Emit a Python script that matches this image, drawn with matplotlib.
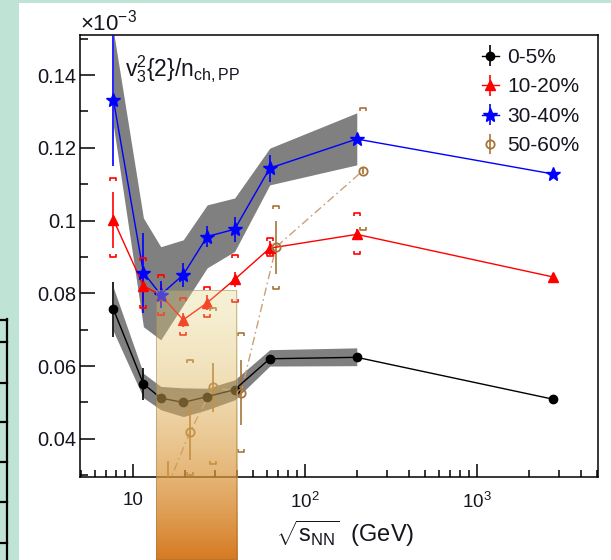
"""
v3^2{2}/n_ch,PP versus collision energy for four centrality classes,
with systematic bands / brackets and a highlighted energy window.
"""

import matplotlib
matplotlib.use("Agg")

import matplotlib.pyplot as plt
import numpy as np
from matplotlib.lines import Line2D
from matplotlib.patches import Rectangle
from matplotlib.path import Path
from matplotlib.ticker import FuncFormatter, LogLocator, NullFormatter


plt.rcParams["font.family"] = ["Liberation Sans", "DejaVu Sans"]
plt.rcParams["mathtext.fontset"] = "custom"
plt.rcParams["mathtext.rm"] = "Liberation Sans"
plt.rcParams["mathtext.it"] = "Liberation Sans:italic"
plt.rcParams["mathtext.bf"] = "Liberation Sans:bold"


# ---- data (values in units of 1e-3) ----
energy = [7.7, 11.5, 14.5, 19.6, 27, 39, 62.4, 200, 2760]
band_energy = [7.7, 11.5, 14.5, 19.6, 27, 39, 62.4, 200]

c0_5 = [0.0756, 0.0551, 0.0512, 0.0500, 0.0516, 0.0535, 0.0620, 0.0624, 0.0509]
c0_5_stat = [0.0075, 0.0045, 0.0012, 0.0010, 0.0010, 0.0010, 0.0008, 0.0008, 0.0006]
c0_5_band_lo = [0.0695, 0.0513, 0.0480, 0.0461, 0.0480, 0.0507, 0.0600, 0.0601]
c0_5_band_hi = [0.0815, 0.0580, 0.0544, 0.0540, 0.0539, 0.0562, 0.0645, 0.0650]

c10_20 = [0.1002, 0.0820, 0.0795, 0.0727, 0.0774, 0.0838, 0.0924, 0.0962, 0.0845]
c10_20_stat = [0.0077, 0.0040, 0.0030, 0.0020, 0.0020, 0.0020, 0.0020, 0.0015, 0.0010]
c10_20_sys_energy = [7.7, 11.5, 14.5, 19.6, 27, 39, 62.4, 200]
c10_20_sys_lo = [0.0900, 0.0760, 0.0740, 0.0686, 0.0735, 0.0777, 0.0903, 0.0908]
c10_20_sys_hi = [0.1117, 0.0897, 0.0850, 0.0787, 0.0818, 0.0905, 0.0952, 0.1021]

c30_40 = [0.1331, 0.0857, 0.0796, 0.0851, 0.0956, 0.0976, 0.1144, 0.1224, 0.1128]
c30_40_stat = [0.0180, 0.0110, 0.0037, 0.0033, 0.0030, 0.0034, 0.0037, 0.0010, 0.0008]
c30_40_band_lo = [0.1260, 0.0708, 0.0672, 0.0768, 0.0870, 0.0915, 0.1098, 0.1153]
c30_40_band_hi = [0.1520, 0.1007, 0.0928, 0.0947, 0.1043, 0.1062, 0.1199, 0.1296]

# 50-60% points are drawn slightly shifted in energy
c50_60_energy = [15.9, 21.4, 29.2, 42.5, 67.8, 217]
c50_60 = [0.0270, 0.0418, 0.0542, 0.0527, 0.0927, 0.1137]
c50_60_stat = [0.0070, 0.0075, 0.0067, 0.0090, 0.0073, 0.0010]
c50_60_sys_energy = [21.4, 29.2, 42.5, 67.8, 217]
c50_60_sys_lo = [0.0300, 0.0331, 0.0365, 0.0811, 0.0974]
c50_60_sys_hi = [0.0617, 0.0759, 0.0691, 0.1040, 0.1310]

labels = ["0-5%", "10-20%", "30-40%", "50-60%"]

highlight_range = (13.6, 40.3)

BROWN = "#a8743a"
BROWN_LINE = "#c9a07c"
GREEN_BG = "#bfe3d4"
TEXT = "#15151f"

W, H = 611, 560

# bracket markers for systematic errors
TOP_BRACKET = Path([(-1, -0.8), (-1, 0), (1, 0), (1, -0.8)],
                   [Path.MOVETO, Path.LINETO, Path.LINETO, Path.LINETO])
BOTTOM_BRACKET = Path([(-1, 0.8), (-1, 0), (1, 0), (1, 0.8)],
                      [Path.MOVETO, Path.LINETO, Path.LINETO, Path.LINETO])


def fx(px):
    return px / W


def fy(py):
    return 1 - py / H


def draw_brackets(ax, x, lo, hi, color):
    for path, vals in ((TOP_BRACKET, hi), (BOTTOM_BRACKET, lo)):
        ax.plot(x, vals, linestyle="none", marker=path, markersize=4.6,
                markerfacecolor="none", markeredgecolor=color,
                markeredgewidth=1.2, zorder=4)


def main():

    fig = plt.figure(figsize=(W / 100, H / 100), dpi=100)
    fig.patch.set_facecolor("white")

    # screenshot surroundings
    fig.patches.append(Rectangle((0, 0), fx(19), 1, transform=fig.transFigure,
                                 facecolor=GREEN_BG, edgecolor="none", zorder=0))
    fig.patches.append(Rectangle((0, fy(2.5)), 1, 2.5 / H, transform=fig.transFigure,
                                 facecolor=GREEN_BG, edgecolor="none", zorder=0))
    for yy in [320, 342, 383, 422, 462, 502, 543]:
        fig.add_artist(Line2D([0, fx(6.5)], [fy(yy), fy(yy)], color="black",
                              linewidth=1.6, transform=fig.transFigure))
    fig.add_artist(Line2D([fx(6.5), fx(6.5)], [fy(319), 0], color="black",
                          linewidth=1.6, transform=fig.transFigure))

    ax = fig.add_axes([fx(80), fy(477), fx(598) - fx(80), fy(35) - fy(477)])
    ax.set_xscale("log")
    ax.set_xlim(4.92, 5050)
    ax.set_ylim(0.0295, 0.151)

    # systematic bands
    ax.fill_between(band_energy, c0_5_band_lo, c0_5_band_hi,
                    color="#808080", linewidth=0, zorder=1)
    ax.fill_between(band_energy, c30_40_band_lo, c30_40_band_hi,
                    color="#808080", linewidth=0, zorder=1)

    ax.plot(c50_60_energy, c50_60, color=BROWN_LINE, linewidth=1.0,
            linestyle=(0, (6, 2.5, 1.2, 2.5)), zorder=2)

    draw_brackets(ax, c10_20_sys_energy, c10_20_sys_lo, c10_20_sys_hi, "red")
    draw_brackets(ax, c50_60_sys_energy, c50_60_sys_lo, c50_60_sys_hi, BROWN)

    h0 = ax.errorbar(energy, c0_5, yerr=c0_5_stat, fmt="-o", color="black",
                     markersize=6, linewidth=1.0, elinewidth=1.2, capsize=0, zorder=3)
    h1 = ax.errorbar(energy, c10_20, yerr=c10_20_stat, fmt="-^", color="red",
                     markersize=7, linewidth=1.0, elinewidth=1.2, capsize=0, zorder=3)
    h2 = ax.errorbar(energy, c30_40, yerr=c30_40_stat, fmt="-*", color="blue",
                     markersize=10, linewidth=1.0, elinewidth=1.2, capsize=0, zorder=3)
    h3 = ax.errorbar(c50_60_energy, c50_60, yerr=c50_60_stat, fmt="o", color=BROWN,
                     markerfacecolor="none", markeredgewidth=1.3, markersize=6,
                     elinewidth=1.2, capsize=0, zorder=3)

    # axes styling
    for spine in ax.spines.values():
        spine.set_linewidth(1.1)
    ax.set_xticks([10, 100, 1000], labels=["10", r"$10^{2}$", r"$10^{3}$"])
    ax.xaxis.set_minor_locator(LogLocator(base=10, subs=np.arange(2, 10)))
    ax.xaxis.set_minor_formatter(NullFormatter())
    ax.set_yticks([0.04, 0.06, 0.08, 0.10, 0.12, 0.14])
    ax.set_yticks(np.arange(0.03, 0.151, 0.01), minor=True)
    ax.yaxis.set_major_formatter(FuncFormatter(lambda v, _: f"{v:g}"))

    ax.tick_params(which="both", direction="in", top=False, right=False,
                   width=1.1, colors="black", labelcolor=TEXT)
    ax.tick_params(axis="y", which="major", length=10.5, pad=2.5, labelsize=14.5)
    ax.tick_params(axis="y", which="minor", length=5.5)
    ax.tick_params(axis="x", which="major", length=9.5, pad=11, labelsize=13.5)
    ax.tick_params(axis="x", which="minor", length=5)

    ax.set_xlabel(r"$\sqrt{\mathrm{s}_{\mathrm{NN}}}$  (GeV)", fontsize=17, color=TEXT)
    ax.xaxis.set_label_coords(0.512, -0.093)

    ax.text(0.0, 1.0, r"$\times$10$^{-3}$", transform=ax.transAxes,
            ha="left", va="bottom", fontsize=16, color=TEXT)
    ax.text(0.087, 0.907, r"$\mathrm{v}_{3}^{2}\{2\}/\mathrm{n}_{\mathrm{ch,PP}}$",
            transform=ax.transAxes, ha="left", va="baseline", fontsize=16.5, color=TEXT)

    ax.legend([h0, h1, h2, h3], labels, loc="upper left",
              bbox_to_anchor=(fx(482), fy(48)), bbox_transform=fig.transFigure,
              frameon=False, fontsize=15, handlelength=0.8, handletextpad=0.4,
              labelspacing=0.5, borderpad=0, borderaxespad=0)
    for txt in ax.get_legend().get_texts():
        txt.set_color(TEXT)

    # highlighted energy window (drawn over everything, fades to orange)
    x0 = ax.transData.transform((highlight_range[0], 0.05))[0]
    x1 = ax.transData.transform((highlight_range[1], 0.05))[0]
    ytop = ax.transData.transform((20, 0.0809))[1]
    ov = fig.add_axes([x0 / W, 0, (x1 - x0) / W, ytop / H], zorder=5)
    ov.set_axis_off()
    n = 300
    f = np.linspace(0, 1, n)[:, None]
    top_col = np.array([228, 214, 128]) / 255
    bot_col = np.array([214, 122, 32]) / 255
    rgb = top_col + (bot_col - top_col) * f
    alpha = 0.33 + 0.67 * f ** 1.5
    img = np.concatenate([rgb, alpha], axis=1)[:, None, :]
    ov.imshow(img, aspect="auto", extent=(0, 1, 0, 1), interpolation="bilinear")
    ov.add_patch(Rectangle((0, 0), 1, 1, transform=ov.transAxes, fill=False,
                           edgecolor=(0.55, 0.45, 0.3, 0.5), linewidth=1.2))
    ov.set_xlim(0, 1)
    ov.set_ylim(0, 1)

    fig.savefig("out.png", dpi=100)


if __name__ == "__main__":
    main()
